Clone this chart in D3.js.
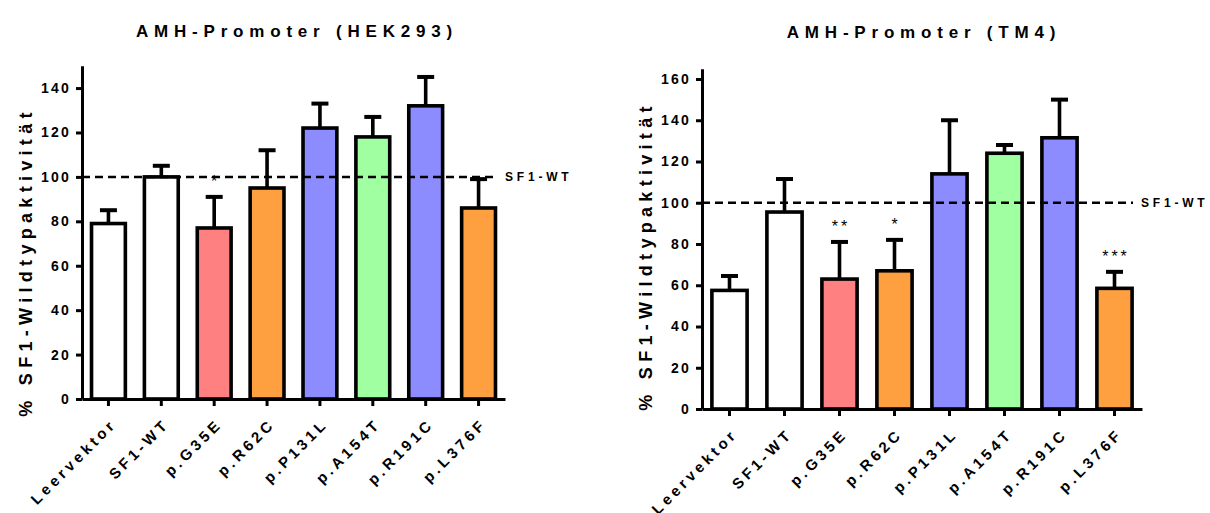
<!DOCTYPE html>
<html>
<head>
<meta charset="utf-8">
<script src="https://cdn.jsdelivr.net/npm/d3@7"></script>
<style>
  body { margin: 0; background: #fff; }
  text { font-family: "Liberation Sans", Arial, sans-serif; font-weight: bold; fill: #000; }
</style>
</head>
<body>
<div id="chart"></div>
<script>
// categories and bar fills (same for both panels)
var categories = ["Leervektor", "SF1-WT", "p.G35E", "p.R62C", "p.P131L", "p.A154T", "p.R191C", "p.L376F"];
var barColors = ["#ffffff", "#ffffff", "#ff8080", "#ffa040", "#8c8cff", "#a0ffa0", "#8c8cff", "#ffa040"];

// HEK293: mean and upper end of error bar
var hekMean = [79, 100, 77, 95, 122, 118, 132, 86];
var hekUpper = [85, 105, 91, 112, 133, 127, 145, 99];
var hekStars = ["", "", "*", "", "", "", "", ""];
var hekTicks = [0, 20, 40, 60, 80, 100, 120, 140];

// TM4
var tm4Mean = [57.5, 95.5, 63, 67, 114, 124, 131.5, 58.5];
var tm4Upper = [64.5, 111.5, 81, 82, 140, 128, 150, 66.5];
var tm4Stars = ["", "", "**", "*", "", "", "", "***"];
var tm4Ticks = [0, 20, 40, 60, 80, 100, 120, 140, 160];

var wtLevel = 100;

var svg = d3.select('#chart').append('svg').attr('width', 1210).attr('height', 513);

function drawPanel(p) {
    var g = svg.append('g');

    var x = d3.scaleBand().domain(categories).range([p.left, p.right])
        .paddingInner(0.36).paddingOuter(0.18);
    var y = d3.scaleLinear().domain([0, p.yMax]).range([p.bottom, p.top]);

    // title
    g.append('text')
        .attr('x', p.titleX).attr('y', p.titleY)
        .attr('text-anchor', 'middle')
        .style('font-size', '17px').style('letter-spacing', '5.8px')
        .text(p.title);

    // y label
    g.append('text')
        .attr('transform', 'translate(' + p.labelX + ',' + p.labelY + ') rotate(-90)')
        .attr('text-anchor', 'middle')
        .style('font-size', '18px').style('letter-spacing', '5.3px')
        .text('% SF1-Wildtypaktivität');

    // bars
    g.selectAll('rect.bar')
        .data(p.mean)
        .enter()
        .append('rect')
        .attr('class', 'bar')
        .attr('x', function (d, i) { return x(categories[i]); })
        .attr('y', function (d) { return y(d); })
        .attr('width', x.bandwidth())
        .attr('height', function (d) { return y(0) - y(d); })
        .attr('fill', function (d, i) { return barColors[i]; })
        .attr('stroke', '#000')
        .attr('stroke-width', 3.6);

    // error bars (upper only)
    var capW = 17;
    g.selectAll('line.err')
        .data(p.mean)
        .enter()
        .append('line')
        .attr('x1', function (d, i) { return x(categories[i]) + x.bandwidth() / 2; })
        .attr('x2', function (d, i) { return x(categories[i]) + x.bandwidth() / 2; })
        .attr('y1', function (d) { return y(d); })
        .attr('y2', function (d, i) { return y(p.upper[i]); })
        .attr('stroke', '#000').attr('stroke-width', 3.6);
    g.selectAll('line.cap')
        .data(p.upper)
        .enter()
        .append('line')
        .attr('x1', function (d, i) { return x(categories[i]) + x.bandwidth() / 2 - capW / 2; })
        .attr('x2', function (d, i) { return x(categories[i]) + x.bandwidth() / 2 + capW / 2; })
        .attr('y1', function (d) { return y(d); })
        .attr('y2', function (d) { return y(d); })
        .attr('stroke', '#000').attr('stroke-width', 4);

    // significance stars
    g.selectAll('text.star')
        .data(p.stars)
        .enter()
        .append('text')
        .attr('x', function (d, i) { return x(categories[i]) + x.bandwidth() / 2 + 1.5; })
        .attr('y', function (d, i) { return y(p.upper[i]) - 10; })
        .attr('text-anchor', 'middle')
        .style('font-size', '16px').style('font-weight', 'normal').style('letter-spacing', '3px')
        .text(function (d) { return d; });

    // SF1-WT reference line
    g.append('line')
        .attr('x1', p.left).attr('x2', p.lineEnd)
        .attr('y1', y(wtLevel)).attr('y2', y(wtLevel))
        .attr('stroke', '#000').attr('stroke-width', 2.5)
        .attr('stroke-dasharray', '8,5');
    g.append('text')
        .attr('x', p.lineEnd + 8).attr('y', y(wtLevel) + 4.5)
        .style('font-size', '12px').style('letter-spacing', '3.8px')
        .text('SF1-WT');

    // axes
    var yAxis = g.append('g')
        .attr('transform', 'translate(' + p.left + ',0)')
        .call(d3.axisLeft(y).tickValues(p.ticks).tickSize(6).tickSizeOuter(0).tickPadding(5));
    yAxis.selectAll('text').style('font-size', '14px').style('letter-spacing', '2.2px');

    var xAxis = g.append('g')
        .attr('transform', 'translate(0,' + p.bottom + ')')
        .call(d3.axisBottom(x).tickSize(7).tickSizeOuter(0));
    xAxis.selectAll('text')
        .attr('text-anchor', 'end')
        .attr('y', 0)
        .attr('dy', null)
        .attr('transform', 'translate(9,26) rotate(-45)')
        .style('font-size', '15px').style('letter-spacing', '3.7px');

    svg.selectAll('.domain, .tick line').attr('stroke', '#000').attr('stroke-width', 3);
}

drawPanel({
    title: 'AMH-Promoter (HEK293)', titleX: 297, titleY: 37,
    labelX: 32, labelY: 262,
    left: 82, right: 505, top: 399 - 150 * 2.221, bottom: 399, yMax: 150,
    lineEnd: 497,
    mean: hekMean, upper: hekUpper, stars: hekStars, ticks: hekTicks
});

drawPanel({
    title: 'AMH-Promoter (TM4)', titleX: 924, titleY: 38,
    labelX: 652, labelY: 256,
    left: 702, right: 1142, top: 409 - 165 * 2.0625, bottom: 409, yMax: 165,
    lineEnd: 1133,
    mean: tm4Mean, upper: tm4Upper, stars: tm4Stars, ticks: tm4Ticks
});
</script>
</body>
</html>
